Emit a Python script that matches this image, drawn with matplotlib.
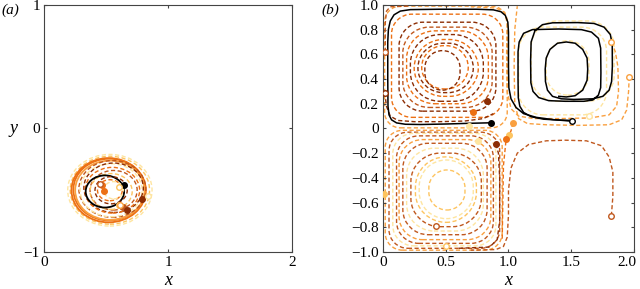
import matplotlib
matplotlib.use("Agg")
import matplotlib.pyplot as plt
from matplotlib.patches import PathPatch, Ellipse
from matplotlib.path import Path
from matplotlib.ticker import FuncFormatter
from matplotlib.transforms import ScaledTranslation

plt.rcParams["font.family"] = ["Liberation Serif", "DejaVu Serif"]
plt.rcParams["font.size"] = 11
plt.rcParams["axes.linewidth"] = 0.8
plt.rcParams["xtick.direction"] = "in"
plt.rcParams["ytick.direction"] = "in"
plt.rcParams["xtick.top"] = True
plt.rcParams["ytick.right"] = True
plt.rcParams["xtick.major.size"] = 2.5
plt.rcParams["ytick.major.size"] = 2.5

# YlOrBr-like shades used for the trajectories
shade = {"k": "black", "d": "#8c2d04", "b": "#c0581e", "o": "#ec7014",
         "l": "#f9a040", "y": "#fdc460", "p": "#fee5a0"}

# ---- panel (a): near-closed orbits (centre, width, height, colour, kind)
a_cx = [0.53, 0.53, 0.52, 0.525, 0.53, 0.55, 0.54, 0.56, 0.55, 0.56, 0.54, 0.49, 0.54, 0.53, 0.56]
a_cy = [-0.50, -0.50, -0.50, -0.495, -0.50, -0.49, -0.50, -0.48, -0.50, -0.50, -0.51, -0.51, -0.50, -0.50, -0.50]
a_w = [0.68, 0.64, 0.60, 0.58, 0.56, 0.54, 0.50, 0.48, 0.44, 0.38, 0.34, 0.31, 0.26, 0.20, 0.16]
a_h = [0.58, 0.55, 0.52, 0.50, 0.48, 0.46, 0.43, 0.40, 0.37, 0.32, 0.29, 0.26, 0.22, 0.17, 0.14]
a_col = ["p", "y", "o", "o", "l", "b", "p", "d", "o", "b", "y", "k", "d", "o", "p"]
a_kind = ["dash", "dash", "solid", "solid", "solid", "dash", "dash", "dash", "dash", "dash",
          "dash", "solid", "dash", "dash", "dash"]

a_fill_x = [0.64, 0.788, 0.634, 0.667, 0.465, 0.48, 0.60]
a_fill_y = [-0.457, -0.573, -0.638, -0.66, -0.457, -0.51, -0.62]
a_fill_c = ["k", "d", "b", "d", "o", "o", "y"]
a_open_x = [0.60, 0.84, 0.61, 0.45]
a_open_y = [-0.47, -0.547, -0.62, -0.45]
a_open_c = ["y", "p", "l", "b"]

# ---- panel (b): cellular-flow orbits as boxes (x0, y0, x1, y1, colour)
b_x0 = [0.015, 0.07, 0.13, 0.16, 0.19, 0.22, 0.25, 0.28, 0.31, 0.335,
        0.02, 0.05, 0.08, 0.11, 0.13, 0.16, 0.19, 0.224, 0.26, 0.29, 0.367,
        1.08, 1.18, 1.30]
b_y0 = [0.005, 0.09, 0.14, 0.17, 0.20, 0.22, 0.26, 0.29, 0.32, 0.31,
        -0.985, -0.97, -0.95, -0.93, -0.90, -0.86, -0.83, -0.795, -0.76, -0.73, -0.66,
        0.11, 0.22, 0.27]
b_x1 = [0.99, 0.955, 0.90, 0.87, 0.84, 0.80, 0.76, 0.72, 0.68, 0.615,
        0.95, 0.93, 0.90, 0.88, 0.86, 0.83, 0.80, 0.784, 0.745, 0.72, 0.654,
        1.78, 1.84, 1.64]
b_y1 = [0.99, 0.925, 0.86, 0.82, 0.79, 0.76, 0.72, 0.69, 0.67, 0.63,
        -0.015, -0.03, -0.04, -0.06, -0.09, -0.12, -0.16, -0.20, -0.23, -0.255, -0.336,
        0.82, 0.87, 0.71]
b_col = ["l", "o", "d", "b", "o", "d", "o", "d", "o", "d",
         "l", "b", "p", "b", "l", "b", "p", "b", "y", "p", "y",
         "p", "p", "p"]

# open trajectories in panel (b)
blk1_x = [0.862, 0.70, 0.50, 0.30, 0.18, 0.11, 0.07, 0.05, 0.042, 0.04, 0.04, 0.045, 0.06, 0.09,
          0.14, 0.22, 0.45, 0.75, 0.88, 0.94, 0.975, 0.995, 1.00, 1.00, 1.003, 1.02, 1.06, 1.12,
          1.22, 1.35, 1.503]
blk1_y = [0.046, 0.042, 0.036, 0.032, 0.034, 0.045, 0.07, 0.11, 0.18, 0.40, 0.70, 0.80, 0.87, 0.92,
          0.95, 0.962, 0.965, 0.965, 0.96, 0.945, 0.915, 0.86, 0.78, 0.50, 0.33, 0.24, 0.17, 0.12,
          0.09, 0.072, 0.059]
blk2_x = [1.503, 1.40, 1.28, 1.18, 1.12, 1.09, 1.078, 1.076, 1.076, 1.085, 1.12, 1.19, 1.40, 1.58,
          1.66, 1.715, 1.733, 1.735, 1.733, 1.715, 1.67, 1.60, 1.45, 1.32, 1.24, 1.195, 1.178,
          1.176, 1.18, 1.21, 1.27, 1.35, 1.55, 1.68, 1.76, 1.81, 1.825, 1.826, 1.82, 1.80, 1.75,
          1.67, 1.52, 1.42, 1.35, 1.31, 1.294, 1.292, 1.30, 1.33, 1.39, 1.46, 1.53, 1.59, 1.625,
          1.63, 1.625, 1.59, 1.53, 1.46, 1.40]
blk2_y = [0.065, 0.068, 0.075, 0.095, 0.13, 0.18, 0.25, 0.40, 0.62, 0.70, 0.77, 0.80, 0.805, 0.80,
          0.78, 0.73, 0.65, 0.45, 0.33, 0.27, 0.23, 0.22, 0.22, 0.225, 0.25, 0.30, 0.37,
          0.55, 0.70, 0.79, 0.84, 0.855, 0.857, 0.85, 0.82, 0.76, 0.68, 0.50, 0.38, 0.31, 0.26,
          0.24, 0.235, 0.24, 0.26, 0.31, 0.38, 0.48, 0.57, 0.64, 0.69, 0.70, 0.69, 0.64, 0.57,
          0.48, 0.39, 0.31, 0.265, 0.255, 0.26]
tr1_x = [0.016, 0.03, 0.06, 0.12, 0.25, 0.45, 0.65, 0.80, 0.88]
tr1_y = [0.29, 0.18, 0.10, 0.065, 0.055, 0.055, 0.06, 0.08, 0.12]
tr2_x = [0.02, 0.02, 0.03, 0.06, 0.20]
tr2_y = [0.62, 0.85, 0.95, 0.985, 0.99]
tr3_x = [1.818, 1.85, 1.87, 1.875, 1.86, 1.80, 1.65, 1.40, 1.20, 1.08, 1.02, 0.99, 0.985, 0.99,
         0.97, 0.90, 0.70]
tr3_y = [0.697, 0.62, 0.50, 0.30, 0.18, 0.11, 0.085, 0.08, 0.08, 0.10, 0.16, 0.30, 0.60, 0.85,
         0.94, 0.975, 0.985]
tr4_x = [1.96, 1.955, 1.94, 1.90, 1.80, 1.55, 1.30, 1.15, 1.08, 1.05, 1.045, 1.05, 1.07]
tr4_y = [0.419, 0.30, 0.15, 0.07, 0.03, 0.025, 0.03, 0.04, 0.08, 0.20, 0.50, 0.80, 0.99]
tr5_x = [1.818, 1.83, 1.83, 1.80, 1.74, 1.62, 1.45, 1.30, 1.16, 1.07, 1.02, 1.00, 1.00, 0.99,
         0.96, 0.90, 0.70]
tr5_y = [-0.708, -0.55, -0.35, -0.23, -0.14, -0.10, -0.095, -0.10, -0.13, -0.20, -0.32, -0.50,
         -0.70, -0.88, -0.955, -0.98, -0.985]
tr6_x = [1.036, 1.02, 0.98, 0.96, 0.955, 0.95]
tr6_y = [0.046, -0.02, -0.10, -0.30, -0.60, -0.90]
tr7_x = [0.90, 0.92, 0.93, 0.93, 0.91, 0.85, 0.60]
tr7_y = [-0.127, -0.20, -0.40, -0.75, -0.90, -0.96, -0.97]
b_lines = [(blk1_x, blk1_y, "k"), (blk2_x, blk2_y, "k"), (tr1_x, tr1_y, "d"), (tr2_x, tr2_y, "b"),
           (tr3_x, tr3_y, "l"), (tr4_x, tr4_y, "l"), (tr5_x, tr5_y, "b"), (tr6_x, tr6_y, "o"),
           (tr7_x, tr7_y, "d")]

b_fill_x = [0.83, 0.714, 0.862, 0.69, 1.036, 1.005, 0.979, 0.90, 0.758, 0.01]
b_fill_y = [0.224, 0.135, 0.046, 0.02, 0.046, -0.054, -0.086, -0.127, -0.10, -0.53]
b_fill_c = ["d", "o", "k", "p", "l", "y", "o", "d", "p", "y"]
b_open_x = [0.02, 0.016, 1.818, 1.96, 1.638, 1.503, 1.818, 0.424, 0.505]
b_open_y = [0.62, 0.29, 0.697, 0.419, 0.10, 0.059, -0.708, -0.789, -0.951]
b_open_c = ["b", "d", "l", "l", "p", "k", "b", "b", "y"]

dash = (0, (3, 1.8))


def rounded_loop(x0, y0, x1, y1, r):
    # rounded rectangle with circular (cubic Bezier) corners of radius r
    k = 0.5523 * r
    verts = [(x0 + r, y0), (x1 - r, y0),
             (x1 - r + k, y0), (x1, y0 + r - k), (x1, y0 + r),
             (x1, y1 - r),
             (x1, y1 - r + k), (x1 - r + k, y1), (x1 - r, y1),
             (x0 + r, y1),
             (x0 + r - k, y1), (x0, y1 - r + k), (x0, y1 - r),
             (x0, y0 + r),
             (x0, y0 + r - k), (x0 + r - k, y0), (x0 + r, y0)]
    codes = [Path.MOVETO, Path.LINETO, Path.CURVE4, Path.CURVE4, Path.CURVE4, Path.LINETO,
             Path.CURVE4, Path.CURVE4, Path.CURVE4, Path.LINETO,
             Path.CURVE4, Path.CURVE4, Path.CURVE4, Path.LINETO,
             Path.CURVE4, Path.CURVE4, Path.CURVE4]
    return Path(verts, codes)


fig = plt.figure(figsize=(6.4, 2.89), dpi=100)
ax1 = fig.add_axes([0.069, 0.128, 0.3875, 0.855])
ax2 = fig.add_axes([0.598, 0.128, 0.393, 0.855])

# panel (a)
for cx, cy, w, h, c, k in zip(a_cx, a_cy, a_w, a_h, a_col, a_kind):
    ls = "-" if k == "solid" else dash
    lw = 1.3 if k == "solid" else 1.0
    ax1.add_patch(Ellipse((cx, cy), w, h, fill=False, ec=shade[c], lw=lw, ls=ls))
for x, y, c in zip(a_fill_x, a_fill_y, a_fill_c):
    ax1.plot(x, y, "o", ms=4, color=shade[c], zorder=5)
for x, y, c in zip(a_open_x, a_open_y, a_open_c):
    ax1.plot(x, y, "o", ms=4, mfc="white", mec=shade[c], mew=1, zorder=5)

# panel (b)
for x0, y0, x1, y1, c in zip(b_x0, b_y0, b_x1, b_y1, b_col):
    m = min(x1 - x0, y1 - y0)
    r = min(0.5 * m, 0.12 + 0.25 * (1 - m))
    ax2.add_patch(PathPatch(rounded_loop(x0, y0, x1, y1, r), fill=False, ec=shade[c],
                            lw=1.0, ls=dash))
for xs, ys, c in b_lines:
    if c == "k":
        ax2.plot(xs, ys, "-", color="black", lw=1.1, zorder=4)
    else:
        ax2.plot(xs, ys, color=shade[c], lw=1.0, ls=dash, zorder=3)
for x, y, c in zip(b_fill_x, b_fill_y, b_fill_c):
    ax2.plot(x, y, "o", ms=4, color=shade[c], zorder=5)
for x, y, c in zip(b_open_x, b_open_y, b_open_c):
    ax2.plot(x, y, "o", ms=4, mfc="white", mec=shade[c], mew=1, zorder=5)

ax1.set_xlim(0, 2)
ax1.set_ylim(-1, 1)
ax1.set_xticks([0, 1, 2])
ax1.set_yticks([-1, 0, 1])
ax1.xaxis.set_major_formatter(FuncFormatter(lambda v, _: "%d" % v))
ax1.yaxis.set_major_formatter(FuncFormatter(lambda v, _: ("%d" % v).replace("-", "\u2212")))
ax1.set_xlabel("x", fontstyle="italic", fontsize=13, labelpad=2)
ax1.set_ylabel("y", fontstyle="italic", fontsize=13, rotation=0, va="center")
ax1.yaxis.set_label_coords(-0.125, 0.5)

ax2.set_xlim(0, 2)
ax2.set_ylim(-1, 1)
ax2.set_xticks([0, 0.5, 1.0, 1.5, 2.0])
ax2.set_yticks([-1.0, -0.8, -0.6, -0.4, -0.2, 0, 0.2, 0.4, 0.6, 0.8, 1.0])
fmt1 = lambda v, _: "0" if abs(v) < 1e-9 else ("%.1f" % v).replace("-", "\u2212")
ax2.xaxis.set_major_formatter(FuncFormatter(fmt1))
ax2.yaxis.set_major_formatter(FuncFormatter(fmt1))
ax2.set_xlabel("x", fontstyle="italic", fontsize=13, labelpad=2)

for ax in (ax1, ax2):
    for sp in ax.spines.values():
        sp.set_color("#444444")
    ax.tick_params(colors="#444444", labelcolor="black", pad=3)

# keep the last x tick label of panel (b) inside the figure
fig.canvas.draw()
last = ax2.get_xticklabels()[-1]
last.set_transform(last.get_transform() + ScaledTranslation(-5 / 72, 0, fig.dpi_scale_trans))

fig.text(0.002, 0.965, "(a)", fontstyle="italic", fontsize=11, va="center")
fig.text(0.503, 0.965, "(b)", fontstyle="italic", fontsize=11, va="center")

fig.savefig("out.png", dpi=100)
